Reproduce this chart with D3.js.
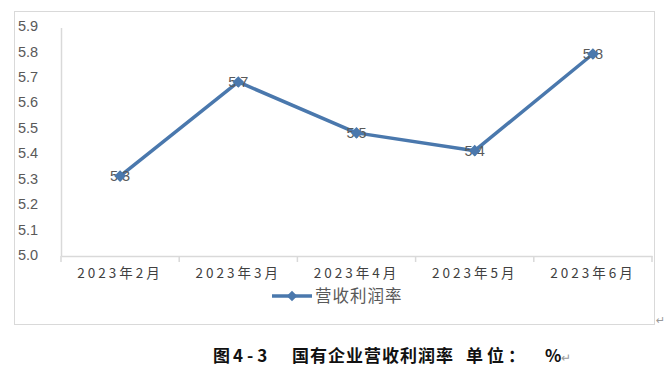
<!DOCTYPE html>
<html><head><meta charset="utf-8">
<script src="https://cdn.jsdelivr.net/npm/d3@7"></script>
<style>body{margin:0;background:#fff}svg{display:block}</style>
</head><body>
<svg id="c" width="665" height="373"></svg>
<script>
const categories = ["2023年2月","2023年3月","2023年4月","2023年5月","2023年6月"];
const values = [5.31, 5.68, 5.48, 5.41, 5.79];
const valueLabels = ["5.3","5.7","5.5","5.4","5.8"];
const yTicks = [5.0,5.1,5.2,5.3,5.4,5.5,5.6,5.7,5.8,5.9];
const seriesName = "营收利润率";
const captionParts = ["图", "4-3", "国有企业营收利润率", "单位：", "%"];

(function(){
const svg = d3.select("#c");
const color = "#4a78ad";
const pLeft = 61, pRight = 652, pTop = 26, pBottom = 256;

svg.append("rect").attr("x",14.5).attr("y",11.5).attr("width",640).attr("height",313)
  .attr("fill","none").attr("stroke","#d9d9d9").attr("stroke-width",1);

const x = d3.scaleBand().domain(categories).range([pLeft,pRight]);
const y = d3.scaleLinear().domain([5.0,5.9]).range([pBottom-1, pTop]);

svg.append("g").selectAll("text").data(yTicks).join("text")
  .attr("x",18).attr("y",d=>y(d)).attr("dy","0.35em")
  .attr("font-family","Liberation Sans, Arial, sans-serif").attr("font-size",14.5)
  .attr("fill","#595959").text(d=>d.toFixed(1));

svg.append("line").attr("x1",pLeft+0.5).attr("x2",pLeft+0.5).attr("y1",28).attr("y2",pBottom)
  .attr("stroke","#d9d9d9").attr("stroke-width",1.5);

const xAxis = d3.axisBottom(x).tickSize(0).tickFormat(d=>d);
const gx = svg.append("g").attr("transform",`translate(0,${pBottom})`).call(xAxis);
gx.select(".domain").attr("stroke","#d9d9d9").attr("stroke-width",1.5);
gx.selectAll(".tick text").attr("dy",0).attr("y",22)
  .attr("font-family","Noto Sans CJK SC, sans-serif").attr("font-size",13.5)
  .attr("letter-spacing","3px").attr("fill","#404040");
const bounds = categories.map(c=>x(c)).concat([x(categories[categories.length-1])+x.bandwidth()]);
svg.append("g").selectAll("line").data(bounds).join("line")
  .attr("x1",d=>d).attr("x2",d=>d).attr("y1",pBottom).attr("y2",pBottom+6)
  .attr("stroke","#d9d9d9").attr("stroke-width",1.5);

const cx = d=>x(d)+x.bandwidth()/2;
const line = d3.line().x((d,i)=>cx(categories[i])).y(d=>y(d));
svg.append("path").datum(values).attr("d",line).attr("fill","none")
  .attr("stroke",color).attr("stroke-width",3.5).attr("stroke-linejoin","round");

svg.append("g").selectAll("text").data(values).join("text")
  .attr("x",(d,i)=>cx(categories[i])).attr("y",d=>y(d)).attr("dy","0.36em")
  .attr("text-anchor","middle").attr("font-family","Liberation Sans, Arial, sans-serif")
  .attr("font-size",14.5).attr("fill","#595959").text((d,i)=>valueLabels[i]);

const diamond = d3.symbol().type(d3.symbolSquare).size(68);
svg.append("g").selectAll("path").data(values).join("path")
  .attr("transform",(d,i)=>`translate(${cx(categories[i])},${y(d)}) rotate(45)`)
  .attr("d",diamond).attr("fill",color);

const lg = svg.append("g").attr("transform","translate(272,296)");
lg.append("line").attr("x1",0).attr("x2",40).attr("stroke",color).attr("stroke-width",3.5);
lg.append("path").attr("transform","translate(20,0) rotate(45)").attr("d",d3.symbol().type(d3.symbolSquare).size(55)).attr("fill",color);
lg.append("text").attr("x",43).attr("dy","0.35em").attr("font-family","Noto Sans CJK SC, sans-serif")
  .attr("font-size",16.5).attr("letter-spacing","1px").attr("fill","#595959").text(seriesName);

svg.append("text").attr("x",656).attr("y",324).attr("font-size",11).attr("fill","#999")
  .attr("font-family","DejaVu Sans").text("↵");

const capX = [213, 233, 292, 466, 545];
const capLS = ["0px", "4px", "1px", "4px", "0px"];
const cap = svg.append("text").attr("y",362).attr("font-family","Noto Sans CJK SC, sans-serif")
  .attr("font-weight","bold").attr("font-size",17).attr("fill","#111");
captionParts.forEach((t,i)=>{
  cap.append("tspan").attr("x",capX[i]).attr("letter-spacing", capLS[i]).text(t);
});
cap.append("tspan").attr("font-size",12).attr("font-weight","normal").attr("fill","#999").text("↵");
})();
</script>
</body></html>
